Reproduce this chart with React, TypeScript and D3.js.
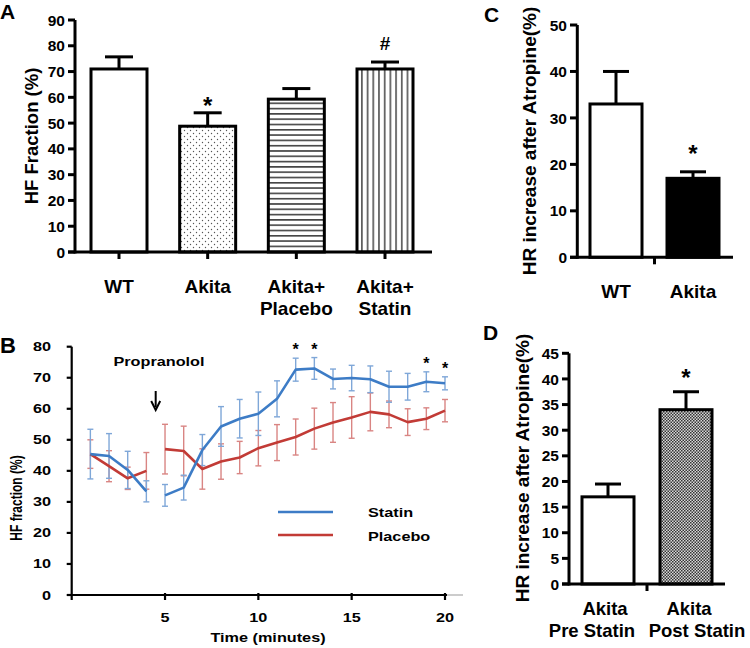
import React from "react";
import * as d3 from "d3";

const FONT = "'Liberation Sans', Arial, Helvetica, sans-serif";

// ---------- Panel A data ----------
const aCategories = [["WT"], ["Akita"], ["Akita+", "Placebo"], ["Akita+", "Statin"]];
const aMeans = [71, 48.8, 59.3, 71];
const aErrors = [4.7, 5.2, 4.1, 2.7];
const aMarks = ["", "*", "", "#"];
const aTicks = [0, 10, 20, 30, 40, 50, 60, 70, 80, 90];

// ---------- Panel B data ----------
const bTime = [1, 2, 3, 4, 5, 6, 7, 8, 9, 10, 11, 12, 13, 14, 15, 16, 17, 18, 19, 20];
const statinMean = [45.4, 44.8, 40.3, 33.4, 32.1, 34.6, 46.7, 54.3, 56.8, 58.4, 63.2, 72.6, 73, 69.6, 69.9, 69.5, 67.1, 67.1, 68.7, 68.2];
const statinErr = [8, 7.2, 6, 3.4, 3.5, 4, 5, 6.4, 6.2, 7, 5.8, 3.7, 3.5, 3.2, 4.1, 4.3, 5, 4.3, 3.2, 2.1];
const placeboMean = [45.4, 41.5, 37.6, 40, 47, 46.4, 40.6, 43, 44.3, 47.3, 49.1, 50.9, 53.6, 55.6, 57.2, 59, 58.2, 55.7, 56.8, 59.4];
const placeboErr = [4.6, 5, 3.6, 5.9, 8, 8, 6.5, 5.7, 5.2, 5.7, 5.8, 5.8, 6.6, 6.4, 6.7, 6.1, 4.3, 4.3, 3.5, 3.6];
const bSegments = [[0, 4], [4, 20]]; // recording gap around propranolol injection
const bStarTimes = [12, 13, 19, 20];
const bYTicks = [0, 10, 20, 30, 40, 50, 60, 70, 80];
const bXTicks = [5, 10, 15, 20];
const bArrowTime = 4.5;

// ---------- Panel C data ----------
const cCategories = ["WT", "Akita"];
const cMeans = [33, 17];
const cErrors = [7, 1.4];
const cMarks = ["", "*"];
const cTicks = [0, 10, 20, 30, 40, 50];

// ---------- Panel D data ----------
const dCategories = [["Akita", "Pre Statin"], ["Akita", "Post Statin"]];
const dMeans = [17, 34];
const dErrors = [2.5, 3.5];
const dMarks = ["", "*"];
const dTicks = [0, 5, 10, 15, 20, 25, 30, 35, 40, 45];

const BLUE = "#3d7cc6";
const RED = "#c23b36";
const BLUE_ERR = "#7fa7d8";
const RED_ERR = "#d98583";

// Panel B text in the original is stretched horizontally
const SX = 1.3;
function SText(props: { x: number; y: number; size: number; anchor?: string; children: React.ReactNode; rotate?: boolean }) {
  const { x, y, size, anchor = "start", children, rotate } = props;
  return (
    <text
      transform={`translate(${x},${y}) scale(${SX},1)${rotate ? " rotate(-90)" : ""}`}
      textAnchor={anchor}
      fontSize={size}
      fontWeight="bold"
      fontFamily={FONT}
    >
      {children}
    </text>
  );
}

function Mark({ x, errTop, mark, starOffset, hashOffset }: { x: number; errTop: number; mark: string; starOffset: number; hashOffset: number }) {
  if (!mark) return null;
  const isStar = mark === "*";
  return (
    <text x={x} y={errTop + (isStar ? starOffset : hashOffset)} textAnchor="middle" fontSize={isStar ? 24 : 19} fontWeight="bold" fontFamily={FONT}>
      {mark}
    </text>
  );
}

function PanelA() {
  const y = d3.scaleLinear().domain([0, 90]).range([252, 20]);
  const x = d3.scalePoint<number>().domain(d3.range(aMeans.length)).range([119, 385]);
  const bw = 56;
  const fills = ["#fff", "url(#dots)", "url(#hlines)", "url(#vlines)"];
  return (
    <g>
      <text x={0} y={19} fontSize={21} fontWeight="bold" fontFamily={FONT}>A</text>
      {aMeans.map((m, i) => {
        const cx = x(i)!;
        const et = y(m + aErrors[i]);
        return (
          <g key={i}>
            <line x1={cx} x2={cx} y1={y(m)} y2={et} stroke="#000" strokeWidth={3} />
            <line x1={cx - bw / 4} x2={cx + bw / 4} y1={et} y2={et} stroke="#000" strokeWidth={3} />
            <rect x={cx - bw / 2} y={y(m)} width={bw} height={y(0) - y(m)} fill={fills[i]} stroke="#000" strokeWidth={3} />
            <line x1={cx} x2={cx} y1={y(0)} y2={y(0) + 7} stroke="#000" strokeWidth={3} />
            <Mark x={cx} errTop={et} mark={aMarks[i]} starOffset={1} hashOffset={-12} />
            {aCategories[i].map((t, k) => (
              <text key={k} x={cx} y={293 + k * 22} textAnchor="middle" fontSize={19} fontWeight="bold" fontFamily={FONT}>{t}</text>
            ))}
          </g>
        );
      })}
      <line x1={75} x2={75} y1={y(90)} y2={y(0) + 1.5} stroke="#000" strokeWidth={3} />
      <line x1={68} x2={432} y1={y(0)} y2={y(0)} stroke="#000" strokeWidth={3} />
      {aTicks.map((t) => (
        <g key={t}>
          <line x1={68} x2={75} y1={y(t)} y2={y(t)} stroke="#000" strokeWidth={3} />
          <text x={65} y={y(t)} dy="0.36em" textAnchor="end" fontSize={15.5} fontWeight="bold" fontFamily={FONT}>{t}</text>
        </g>
      ))}
      <text transform={`translate(38,${136}) rotate(-90)`} textAnchor="middle" fontSize={18.5} fontWeight="bold" fontFamily={FONT}>HF Fraction (%)</text>
    </g>
  );
}

function PanelB() {
  const x = d3.scaleLinear().domain([0, 20]).range([71.7, 445]);
  const y = d3.scaleLinear().domain([0, 80]).range([595, 346.7]);
  const mk = (means: number[]) =>
    d3.line<number>().x((i) => x(bTime[i])).y((i) => y(means[i]));
  const series = [
    { means: placeboMean, errs: placeboErr, color: RED, ecolor: RED_ERR },
    { means: statinMean, errs: statinErr, color: BLUE, ecolor: BLUE_ERR },
  ];
  const ax = x(bArrowTime);
  return (
    <g>
      <text x={0} y={353} fontSize={22} fontWeight="bold" fontFamily={FONT}>B</text>
      {series.map((s, si) => (
        <g key={"e" + si}>
          {bTime.map((t, i) => {
            const cx = x(t);
            const top = y(s.means[i] + s.errs[i]);
            const bot = y(s.means[i] - s.errs[i]);
            return (
              <g key={i} stroke={s.ecolor} strokeWidth={1.4}>
                <line x1={cx} x2={cx} y1={top} y2={bot} />
                <line x1={cx - 3} x2={cx + 3} y1={top} y2={top} />
                <line x1={cx - 3} x2={cx + 3} y1={bot} y2={bot} />
              </g>
            );
          })}
        </g>
      ))}
      {series.map((s, si) => (
        <g key={"l" + si}>
          {bSegments.map(([a, b], k) => (
            <path key={k} d={mk(s.means)(d3.range(a, b)) || ""} fill="none" stroke={s.color} strokeWidth={2.6} strokeLinejoin="round" />
          ))}
        </g>
      ))}
      {bStarTimes.map((t) => {
        const i = bTime.indexOf(t);
        return (
          <text key={t} x={x(t)} y={y(statinMean[i] + statinErr[i]) - 3} textAnchor="middle" fontSize={16} fontWeight="bold" fontFamily={FONT}>*</text>
        );
      })}
      {/* axes */}
      <line x1={x(0)} x2={x(0)} y1={y(80)} y2={y(0) + 5} stroke="#000" strokeWidth={2.2} />
      <line x1={x(0)} x2={x(20) + 2} y1={y(0)} y2={y(0)} stroke="#000" strokeWidth={2.2} />
      <line x1={x(20) + 2} x2={463} y1={y(0)} y2={y(0)} stroke="#bbb" strokeWidth={1.5} />
      {bYTicks.map((t) => (
        <g key={t}>
          <line x1={x(0) - 5} x2={x(0)} y1={y(t)} y2={y(t)} stroke="#000" strokeWidth={2.2} />
          <SText x={51} y={y(t) + 4.5} size={12.5} anchor="end">{t}</SText>
        </g>
      ))}
      {bXTicks.map((t) => (
        <g key={t}>
          <line x1={x(t)} x2={x(t)} y1={y(0) - 2} y2={y(0) + 5} stroke="#000" strokeWidth={2.2} />
          <SText x={x(t)} y={622} size={12.5} anchor="middle">{t}</SText>
        </g>
      ))}
      <SText x={22} y={498} size={12} anchor="middle" rotate>HF fraction (%)</SText>
      <SText x={268} y={642} size={12.5} anchor="middle">Time (minutes)</SText>
      {/* propranolol annotation */}
      <SText x={159} y={366} size={12.5} anchor="middle">Propranolol</SText>
      <line x1={ax} x2={ax} y1={391} y2={407} stroke="#000" strokeWidth={2} />
      <path d={`M${ax - 4.5},${401} L${ax},${410} L${ax + 4.5},${401}`} fill="none" stroke="#000" strokeWidth={2} />
      {/* legend */}
      <line x1={278} x2={333} y1={512} y2={512} stroke={BLUE} strokeWidth={2.6} />
      <line x1={278} x2={333} y1={535} y2={535} stroke={RED} strokeWidth={2.6} />
      <SText x={368} y={517} size={12.5}>Statin</SText>
      <SText x={368} y={541} size={12.5}>Placebo</SText>
    </g>
  );
}

function PanelC() {
  const y = d3.scaleLinear().domain([0, 50]).range([257.3, 25]);
  const x = d3.scalePoint<number>().domain(d3.range(cMeans.length)).range([616, 693]);
  const bw = 52;
  const fills = ["#fff", "#000"];
  return (
    <g>
      <text x={484} y={22} fontSize={21} fontWeight="bold" fontFamily={FONT}>C</text>
      {cMeans.map((m, i) => {
        const cx = x(i)!;
        const et = y(m + cErrors[i]);
        return (
          <g key={i}>
            <line x1={cx} x2={cx} y1={y(m)} y2={et} stroke="#000" strokeWidth={3} />
            <line x1={cx - bw / 4} x2={cx + bw / 4} y1={et} y2={et} stroke="#000" strokeWidth={3} />
            <rect x={cx - bw / 2} y={y(m)} width={bw} height={y(0) - y(m)} fill={fills[i]} stroke="#000" strokeWidth={3} />
            <Mark x={cx} errTop={et} mark={cMarks[i]} starOffset={-10} hashOffset={-12} />
            <text x={cx} y={298} textAnchor="middle" fontSize={19} fontWeight="bold" fontFamily={FONT}>{cCategories[i]}</text>
          </g>
        );
      })}
      <line x1={(x(0)! + x(1)!) / 2} x2={(x(0)! + x(1)!) / 2} y1={y(0)} y2={y(0) + 7} stroke="#000" strokeWidth={3} />
      <line x1={577.3} x2={577.3} y1={y(50)} y2={y(0) + 1.5} stroke="#000" strokeWidth={3} />
      <line x1={570} x2={733} y1={y(0)} y2={y(0)} stroke="#000" strokeWidth={3} />
      {cTicks.map((t) => (
        <g key={t}>
          <line x1={570} x2={577.3} y1={y(t)} y2={y(t)} stroke="#000" strokeWidth={3} />
          <text x={567} y={y(t)} dy="0.36em" textAnchor="end" fontSize={15.5} fontWeight="bold" fontFamily={FONT}>{t}</text>
        </g>
      ))}
      <text transform={`translate(536,${141}) rotate(-90)`} textAnchor="middle" fontSize={19} fontWeight="bold" fontFamily={FONT}>HR increase after Atropine(%)</text>
    </g>
  );
}

function PanelD() {
  const y = d3.scaleLinear().domain([0, 45]).range([584, 353.3]);
  const x = d3.scalePoint<number>().domain(d3.range(dMeans.length)).range([608, 686]);
  const bw = 52;
  const fills = ["#fff", "url(#checker)"];
  // second label line is nudged outward so the two labels don't collide
  const lineShift = [[-3, -16], [3, 11]];
  return (
    <g>
      <text x={483} y={340} fontSize={21} fontWeight="bold" fontFamily={FONT}>D</text>
      {dMeans.map((m, i) => {
        const cx = x(i)!;
        const et = y(m + dErrors[i]);
        return (
          <g key={i}>
            <line x1={cx} x2={cx} y1={y(m)} y2={et} stroke="#000" strokeWidth={3} />
            <line x1={cx - bw / 4} x2={cx + bw / 4} y1={et} y2={et} stroke="#000" strokeWidth={3} />
            <rect x={cx - bw / 2} y={y(m)} width={bw} height={y(0) - y(m)} fill={fills[i]} stroke="#000" strokeWidth={3} />
            <Mark x={cx} errTop={et} mark={dMarks[i]} starOffset={-6} hashOffset={-12} />
            {dCategories[i].map((t, k) => (
              <text key={k} x={cx + lineShift[i][k]} y={615 + k * 22} textAnchor="middle" fontSize={18.5} fontWeight="bold" fontFamily={FONT}>{t}</text>
            ))}
          </g>
        );
      })}
      <line x1={(x(0)! + x(1)!) / 2} x2={(x(0)! + x(1)!) / 2} y1={y(0)} y2={y(0) + 7} stroke="#000" strokeWidth={3} />
      <line x1={569} x2={569} y1={y(45)} y2={y(0) + 1.5} stroke="#000" strokeWidth={3} />
      <line x1={562} x2={725} y1={y(0)} y2={y(0)} stroke="#000" strokeWidth={3} />
      {dTicks.map((t) => (
        <g key={t}>
          <line x1={562} x2={569} y1={y(t)} y2={y(t)} stroke="#000" strokeWidth={3} />
          <text x={559} y={y(t)} dy="0.36em" textAnchor="end" fontSize={15.5} fontWeight="bold" fontFamily={FONT}>{t}</text>
        </g>
      ))}
      <text transform={`translate(529,${468}) rotate(-90)`} textAnchor="middle" fontSize={19} fontWeight="bold" fontFamily={FONT}>HR increase after Atropine(%)</text>
    </g>
  );
}

export default function App() {
  return (
    <svg width={750} height={648} style={{ position: "absolute", left: 0, top: 0, background: "#fff" }}>
      <defs>
        <pattern id="dots" width={6} height={6} patternUnits="userSpaceOnUse">
          <rect width={6} height={6} fill="#fff" />
          <circle cx={1.5} cy={1.5} r={0.7} fill="#555" />
          <circle cx={4.5} cy={4.5} r={0.7} fill="#555" />
        </pattern>
        <pattern id="hlines" width={6} height={5.3} patternUnits="userSpaceOnUse">
          <rect width={6} height={5.3} fill="#fff" />
          <line x1={0} x2={6} y1={2.6} y2={2.6} stroke="#000" strokeWidth={1.2} />
        </pattern>
        <pattern id="vlines" width={5.7} height={6} patternUnits="userSpaceOnUse">
          <rect width={5.7} height={6} fill="#fff" />
          <line x1={2.8} x2={2.8} y1={0} y2={6} stroke="#000" strokeWidth={1.1} />
        </pattern>
        <pattern id="checker" width={3} height={3} patternUnits="userSpaceOnUse">
          <rect width={3} height={3} fill="#d8d8d8" />
          <rect width={1.5} height={1.5} fill="#333" />
          <rect x={1.5} y={1.5} width={1.5} height={1.5} fill="#333" />
        </pattern>
      </defs>
      <PanelA />
      <PanelB />
      <PanelC />
      <PanelD />
    </svg>
  );
}
